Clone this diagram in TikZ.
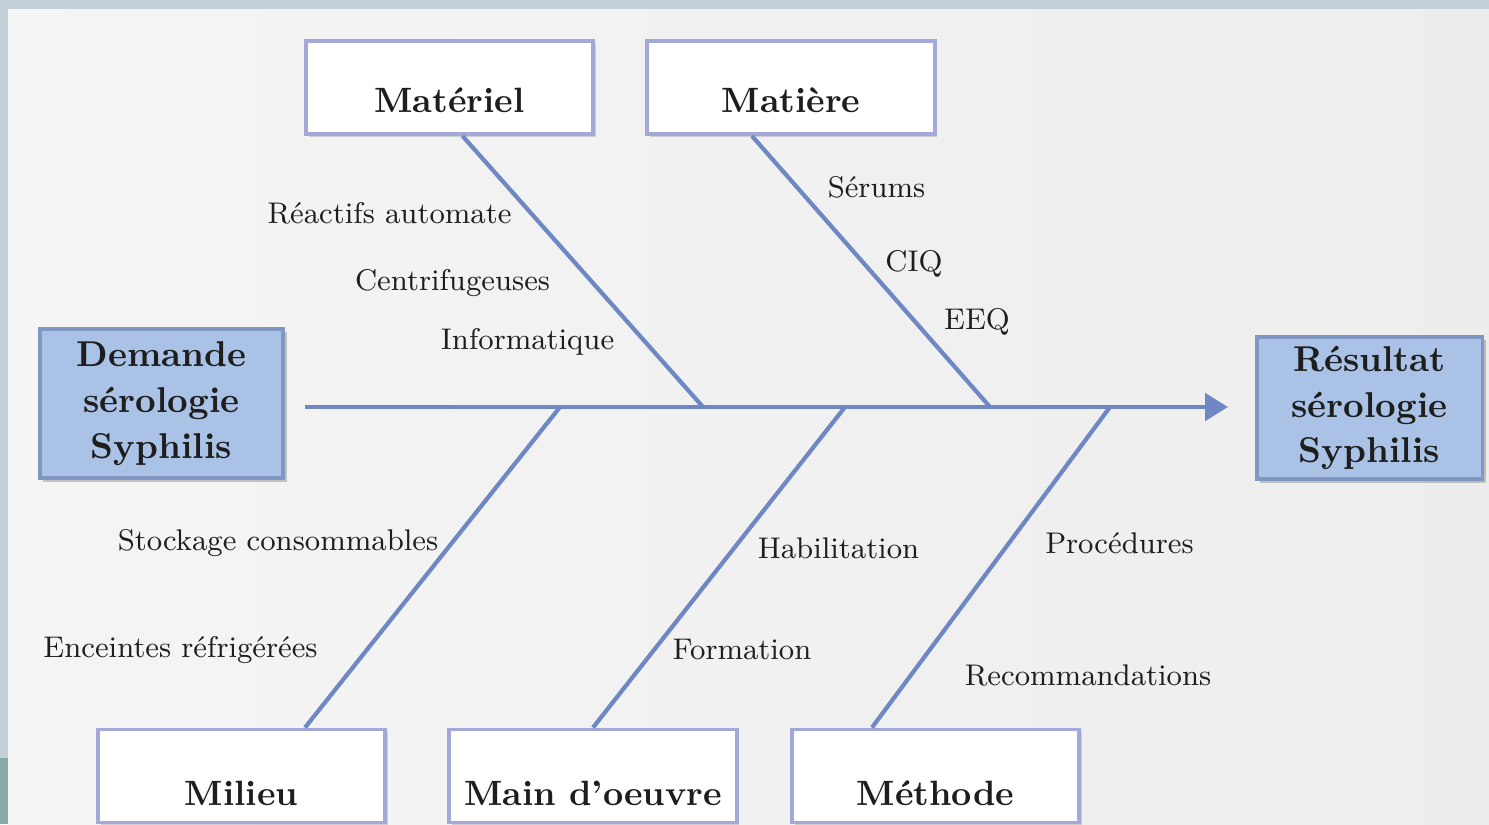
\documentclass[tikz,border=0pt]{standalone}
\usepackage{amsmath}
\usepackage{tikz}
\usetikzlibrary{arrows.meta,shadows}

\definecolor{framegray}{HTML}{C4D0D7}
\definecolor{frameteal}{HTML}{88ABAA}
\definecolor{bonecol}{HTML}{6F87C2}
\definecolor{boxline}{HTML}{A2A8D8}
\definecolor{headfill}{HTML}{A9C2E5}
\definecolor{headline}{HTML}{7F97C2}
\definecolor{inkcol}{HTML}{1E1E1E}

\begin{document}
\begin{tikzpicture}[
        x=0.01cm, y=-0.01cm,
        cause/.style={draw=boxline, line width=1.1pt, fill=white,
            minimum width=2.87cm, minimum height=0.93cm, inner sep=0pt,
            text height=14pt, text depth=0pt,
            font=\fontsize{10}{12}\selectfont\bfseries, text=inkcol,
            drop shadow={shadow xshift=0.8pt, shadow yshift=-0.8pt, opacity=0.25, fill=black!60}},
        head/.style={draw=headline, line width=0.9pt, fill=headfill,
            inner sep=0pt, align=center,
            font=\fontsize{10.2}{13}\selectfont\bfseries, text=inkcol,
            drop shadow={shadow xshift=1pt, shadow yshift=-1pt, opacity=0.35, fill=black!60}},
        bone/.style={draw=bonecol, line width=1.2pt},
        item/.style={font=\fontsize{8.5}{10}\selectfont, text=inkcol, inner sep=0pt}
    ]
        % background
        \fill[framegray] (0,0) rectangle (1489,824);
        \fill[frameteal] (0,758) rectangle (8,824);
        \shade[left color=black!4, middle color=black!1, right color=black!7] (8,9) rectangle (1489,824);
        \useasboundingbox (0,0) rectangle (1489,824);

        % head and tail
        \node[head, minimum width=2.43cm, minimum height=1.49cm] (dem) at (161.5,403.5) {Demande\\sérologie\\Syphilis};
        \node[head, minimum width=2.25cm, minimum height=1.42cm] (res) at (1369.5,408) {Résultat\\sérologie\\Syphilis};

        % spine
        \coordinate (s0) at (305,407);
        \coordinate (s1) at (1228,407);
        \draw[bonecol, line width=1.4pt, -{Triangle[length=0.23cm, width=0.27cm]}] (s0) -- (s1);

        % cause boxes
        \node[cause] (mat) at (449.5,87.5) {Matériel};
        \node[cause] (mie) at (791,87.5) {Matière};
        \node[cause, text height=17pt] (mil) at (241.5,776) {Milieu};
        \node[cause, text height=17pt] (mdo) at (593,776) {Main d’oeuvre};
        \node[cause, text height=17pt] (met) at (935.5,776) {Méthode};

        % bones
        \coordinate (j1) at (703,407);
        \coordinate (j2) at (990,407);
        \coordinate (j3) at (560,407);
        \coordinate (j4) at (845,407);
        \coordinate (j5) at (1110,407);
        \draw[bone] ([xshift=0.13cm]mat.south) -- (j1);
        \draw[bone] ([xshift=-0.39cm]mie.south) -- (j2);
        \draw[bone] ([xshift=0.635cm]mil.north) -- (j3);
        \draw[bone] (mdo.north) -- (j4);
        \draw[bone] ([xshift=-0.635cm]met.north) -- (j5);

        % sub-causes
        \node[item] (ra) at (389.5,213) {Réactifs automate};
        \node[item] (ce) at (452.5,283) {Centrifugeuses};
        \node[item] (in) at (527.5,342) {Informatique};
        \node[item] (se) at (876.5,187) {Sérums};
        \node[item] (ciq) at (914,264) {CIQ};
        \node[item] (eeq) at (977,322) {EEQ};
        \node[item] (sc) at (278,543) {Stockage consommables};
        \node[item] (er) at (180.5,650) {Enceintes réfrigérées};
        \node[item] (ha) at (838.5,548) {Habilitation};
        \node[item] (fo) at (742,649) {Formation};
        \node[item] (pr) at (1119.5,543) {Procédures};
        \node[item] (re) at (1088,675) {Recommandations};
    \end{tikzpicture}
\end{document}
